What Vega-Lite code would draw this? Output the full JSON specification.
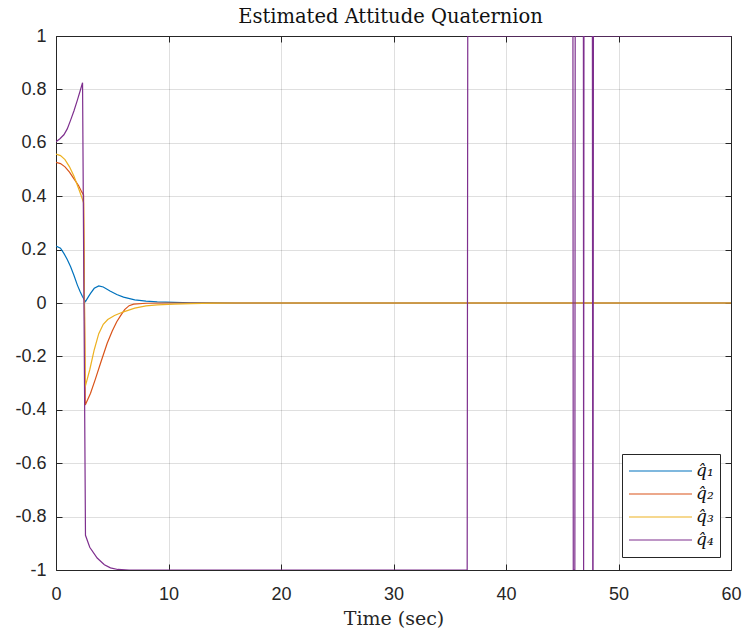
{
  "$schema": "https://vega.github.io/schema/vega-lite/v6.json",
  "width": 675,
  "height": 534,
  "autosize": {"type": "none"},
  "padding": {"left": 56, "top": 36, "right": 17, "bottom": 67},
  "background": "white",
  "config": {
    "view": {"stroke": null},
    "axis": {"labelFont": "Liberation Sans", "labelFontSize": 18, "labelColor": "#262626", "domainColor": "#262626", "tickColor": "#262626", "gridColor": "#262626", "gridOpacity": 0.15, "gridWidth": 1, "domainWidth": 1, "tickWidth": 1}
  },
  "data": {"values": [
    {"t":0,"v":0.213,"s":"q̂₁"},{"t":0.4,"v":0.205,"s":"q̂₁"},{"t":0.7,"v":0.186,"s":"q̂₁"},{"t":1.0,"v":0.163,"s":"q̂₁"},{"t":1.3,"v":0.136,"s":"q̂₁"},{"t":1.6,"v":0.103,"s":"q̂₁"},{"t":1.9,"v":0.067,"s":"q̂₁"},{"t":2.15,"v":0.042,"s":"q̂₁"},{"t":2.35,"v":0.024,"s":"q̂₁"},{"t":2.62,"v":0.005,"s":"q̂₁"},{"t":2.9,"v":0.025,"s":"q̂₁"},{"t":3.07,"v":0.036,"s":"q̂₁"},{"t":3.4,"v":0.055,"s":"q̂₁"},{"t":3.8,"v":0.064,"s":"q̂₁"},{"t":4.2,"v":0.06,"s":"q̂₁"},{"t":4.8,"v":0.045,"s":"q̂₁"},{"t":5.4,"v":0.032,"s":"q̂₁"},{"t":6.0,"v":0.022,"s":"q̂₁"},{"t":7.0,"v":0.012,"s":"q̂₁"},{"t":8.0,"v":0.007,"s":"q̂₁"},{"t":9.0,"v":0.004,"s":"q̂₁"},{"t":10.5,"v":0.002,"s":"q̂₁"},{"t":12,"v":0.001,"s":"q̂₁"},{"t":14,"v":0.0003,"s":"q̂₁"},{"t":16,"v":0,"s":"q̂₁"},{"t":60,"v":0,"s":"q̂₁"},
    {"t":0,"v":0.527,"s":"q̂₂"},{"t":0.4,"v":0.522,"s":"q̂₂"},{"t":0.8,"v":0.51,"s":"q̂₂"},{"t":1.2,"v":0.49,"s":"q̂₂"},{"t":1.6,"v":0.465,"s":"q̂₂"},{"t":2.0,"v":0.44,"s":"q̂₂"},{"t":2.3,"v":0.415,"s":"q̂₂"},{"t":2.45,"v":0.405,"s":"q̂₂"},{"t":2.6,"v":-0.382,"s":"q̂₂"},{"t":3.07,"v":-0.338,"s":"q̂₂"},{"t":3.5,"v":-0.285,"s":"q̂₂"},{"t":4.0,"v":-0.22,"s":"q̂₂"},{"t":4.55,"v":-0.151,"s":"q̂₂"},{"t":5.0,"v":-0.105,"s":"q̂₂"},{"t":5.4,"v":-0.07,"s":"q̂₂"},{"t":5.73,"v":-0.048,"s":"q̂₂"},{"t":6.1,"v":-0.025,"s":"q̂₂"},{"t":6.5,"v":-0.01,"s":"q̂₂"},{"t":6.9,"v":-0.004,"s":"q̂₂"},{"t":8,"v":-0.001,"s":"q̂₂"},{"t":10,"v":0,"s":"q̂₂"},{"t":60,"v":0,"s":"q̂₂"},
    {"t":0,"v":0.558,"s":"q̂₃"},{"t":0.4,"v":0.552,"s":"q̂₃"},{"t":0.8,"v":0.537,"s":"q̂₃"},{"t":1.2,"v":0.51,"s":"q̂₃"},{"t":1.6,"v":0.475,"s":"q̂₃"},{"t":2.0,"v":0.43,"s":"q̂₃"},{"t":2.3,"v":0.395,"s":"q̂₃"},{"t":2.45,"v":0.375,"s":"q̂₃"},{"t":2.6,"v":-0.313,"s":"q̂₃"},{"t":3.0,"v":-0.25,"s":"q̂₃"},{"t":3.4,"v":-0.175,"s":"q̂₃"},{"t":3.8,"v":-0.115,"s":"q̂₃"},{"t":4.2,"v":-0.08,"s":"q̂₃"},{"t":4.6,"v":-0.062,"s":"q̂₃"},{"t":5.2,"v":-0.047,"s":"q̂₃"},{"t":6.0,"v":-0.033,"s":"q̂₃"},{"t":7.0,"v":-0.019,"s":"q̂₃"},{"t":8.0,"v":-0.011,"s":"q̂₃"},{"t":9,"v":-0.007,"s":"q̂₃"},{"t":10.5,"v":-0.004,"s":"q̂₃"},{"t":12,"v":-0.002,"s":"q̂₃"},{"t":14,"v":-0.0008,"s":"q̂₃"},{"t":16,"v":0,"s":"q̂₃"},{"t":60,"v":0,"s":"q̂₃"},
    {"t":0,"v":0.604,"s":"q̂₄"},{"t":0.35,"v":0.615,"s":"q̂₄"},{"t":0.7,"v":0.63,"s":"q̂₄"},{"t":1.0,"v":0.652,"s":"q̂₄"},{"t":1.3,"v":0.685,"s":"q̂₄"},{"t":1.6,"v":0.72,"s":"q̂₄"},{"t":1.9,"v":0.76,"s":"q̂₄"},{"t":2.15,"v":0.795,"s":"q̂₄"},{"t":2.36,"v":0.825,"s":"q̂₄"},{"t":2.62,"v":-0.87,"s":"q̂₄"},{"t":3.0,"v":-0.915,"s":"q̂₄"},{"t":3.66,"v":-0.955,"s":"q̂₄"},{"t":4.3,"v":-0.98,"s":"q̂₄"},{"t":4.84,"v":-0.992,"s":"q̂₄"},{"t":5.5,"v":-0.998,"s":"q̂₄"},{"t":6.5,"v":-1,"s":"q̂₄"},{"t":36.55,"v":-1,"s":"q̂₄"},{"t":36.6,"v":1,"s":"q̂₄"},{"t":45.95,"v":1,"s":"q̂₄"},{"t":45.98,"v":-1,"s":"q̂₄"},{"t":46.12,"v":-1,"s":"q̂₄"},{"t":46.15,"v":1,"s":"q̂₄"},{"t":46.88,"v":1,"s":"q̂₄"},{"t":46.9,"v":-1,"s":"q̂₄"},{"t":46.93,"v":1,"s":"q̂₄"},{"t":47.68,"v":1,"s":"q̂₄"},{"t":47.71,"v":-1,"s":"q̂₄"},{"t":47.74,"v":-1,"s":"q̂₄"},{"t":47.77,"v":1,"s":"q̂₄"},{"t":60,"v":1,"s":"q̂₄"}
  ]},
  "layer": [
    {
      "mark": {"type": "line", "strokeWidth": 1.2, "clip": true},
      "encoding": {
        "x": {"field": "t", "type": "quantitative", "scale": {"domain": [0, 60], "nice": false, "zero": false},
          "axis": {"orient": "bottom", "values": [0,10,20,30,40,50,60], "title": "Time (sec)", "titleFont": "DejaVu Serif", "titleFontSize": 19, "titleFontWeight": "normal", "titleColor": "#262626", "titlePadding": 6, "tickSize": -6, "labelPadding": 21, "grid": true, "labelFlush": false}},
        "y": {"field": "v", "type": "quantitative", "scale": {"domain": [-1, 1], "nice": false, "zero": false},
          "axis": {"orient": "left", "values": [-1,-0.8,-0.6,-0.4,-0.2,0,0.2,0.4,0.6,0.8,1], "labelExpr": "replace(format(datum.value, '.1~f'), '−', '-')", "title": null, "tickSize": -6, "labelPadding": 16, "grid": true}},
        "color": {"field": "s", "type": "nominal", "scale": {"domain": ["q̂₁","q̂₂","q̂₃","q̂₄"], "range": ["#0072BD","#D95319","#EDB120","#7E2F8E"]},
          "legend": {"title": null, "orient": "none", "legendX": 566, "legendY": 418, "fillColor": "white", "strokeColor": "#262626", "padding": 6, "symbolType": "M-1,0H5", "symbolSize": 441, "symbolStrokeWidth": 1.2, "labelOffset": 45, "labelFont": "DejaVu Serif", "labelFontStyle": "italic", "labelFontSize": 17, "labelColor": "#111111", "rowPadding": 1, "clipHeight": 22}}
      }
    },
    {
      "mark": {"type": "point", "opacity": 0},
      "encoding": {
        "x": {"field": "t", "type": "quantitative", "axis": {"orient": "top", "values": [0,10,20,30,40,50,60], "labels": false, "title": "Estimated Attitude Quaternion", "titleFont": "DejaVu Serif", "titleFontSize": 19.5, "titleFontWeight": "normal", "titleColor": "#111111", "titlePadding": 9, "titleX": 334, "tickSize": -6, "grid": false}},
        "y": {"field": "v", "type": "quantitative", "axis": {"orient": "right", "values": [-1,-0.8,-0.6,-0.4,-0.2,0,0.2,0.4,0.6,0.8,1], "labels": false, "title": null, "tickSize": -6, "grid": false}}
      }
    }
  ],
  "resolve": {"axis": {"x": "independent", "y": "independent"}}
}
